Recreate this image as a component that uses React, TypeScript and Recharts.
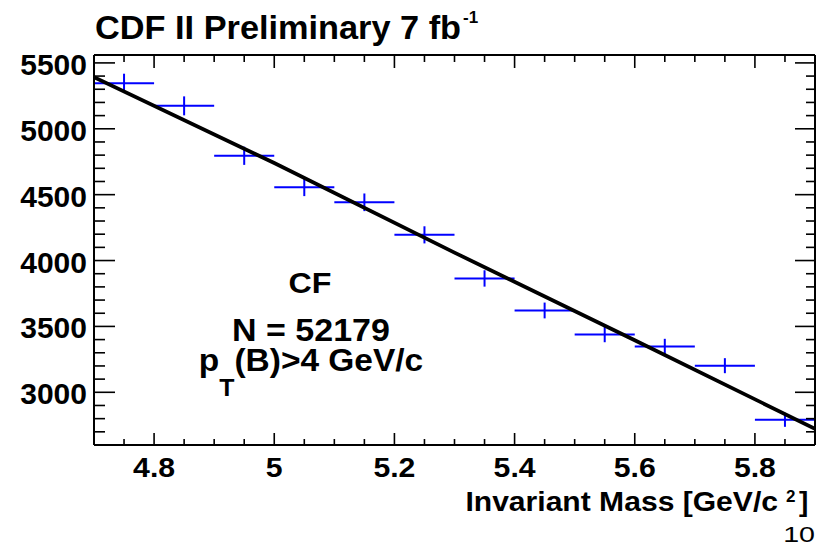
import React from 'react';
import { ComposedChart, XAxis, YAxis, Scatter, ErrorBar, Line } from 'recharts';

// Bin centres (GeV/c^2), counts, and errors
const binCenters = [4.75, 4.85, 4.95, 5.05, 5.15, 5.25, 5.35, 5.45, 5.55, 5.65, 5.75, 5.85];
const binCounts = [5345, 5174, 4795, 4557, 4442, 4195, 3864, 3621, 3439, 3348, 3202, 2791];
const binHalfWidths = [0.05, 0.05, 0.05, 0.05, 0.05, 0.05, 0.05, 0.05, 0.05, 0.05, 0.05, 0.05];
const countErrors = [73, 72, 69, 68, 67, 65, 62, 60, 59, 58, 57, 53];

// Fit curve (black line)
const fitX = [4.7, 5.0, 5.3, 5.6, 5.9];
const fitY = [5392, 4740, 4060, 3395, 2723];

// Axes
const xDomain = [4.7, 5.9];
const yDomain = [2600, 5560];
const xMajorTicks = [4.8, 5.0, 5.2, 5.4, 5.6, 5.8];
const xTickLabels = ['4.8', '5', '5.2', '5.4', '5.6', '5.8'];
const yMajorTicks = [3000, 3500, 4000, 4500, 5000, 5500];
const yTickLabels = ['3000', '3500', '4000', '4500', '5000', '5500'];

const xAllTicks: number[] = [];
for (let i = 0; i <= 24; i++) xAllTicks.push(Math.round((4.7 + i * 0.05) * 100) / 100);
const yAllTicks: number[] = [];
for (let v = 2700; v <= 5500; v += 100) yAllTicks.push(v);

const points = binCenters.map((x, i) => ({ x, y: binCounts[i], ex: binHalfWidths[i], ey: countErrors[i] }));
const fit = fitX.map((x, i) => ({ x, y: fitY[i] }));

const FONT = '"Liberation Sans", Arial, Helvetica, sans-serif';

const isXMajor = (v: number) => xMajorTicks.findIndex((m) => Math.abs(m - v) < 1e-6);
const isYMajor = (v: number) => yMajorTicks.findIndex((m) => Math.abs(m - v) < 1e-6);

const XTickBottom = (props: any) => {
  const { x, y, payload } = props;
  const idx = isXMajor(payload.value);
  const len = idx >= 0 ? 12 : 6;
  return (
    <g>
      <line x1={x} y1={y} x2={x} y2={y - len} stroke="#000" strokeWidth={1.6} />
      {idx >= 0 && (
        <g transform={`translate(${x},${y + 32}) scale(1.12,1)`}>
          <text x={0} y={0} textAnchor="middle" fontFamily={FONT} fontWeight="bold" fontSize={27} fill="#000">
            {xTickLabels[idx]}
          </text>
        </g>
      )}
    </g>
  );
};

const XTickTop = (props: any) => {
  const { x, y, payload } = props;
  const idx = isXMajor(payload.value);
  const len = idx >= 0 ? 13 : 7;
  return <line x1={x} y1={y} x2={x} y2={y + len} stroke="#000" strokeWidth={1.6} />;
};

const YTickLeft = (props: any) => {
  const { x, y, payload } = props;
  const idx = isYMajor(payload.value);
  const len = idx >= 0 ? 21 : 11;
  return (
    <g>
      <line x1={x} y1={y} x2={x + len} y2={y} stroke="#000" strokeWidth={1.6} />
      {idx >= 0 && (
        <text x={x - 7} y={y + 12} textAnchor="end" fontFamily={FONT} fontWeight="bold" fontSize={30} fill="#000">
          {yTickLabels[idx]}
        </text>
      )}
    </g>
  );
};

const YTickRight = (props: any) => {
  const { x, y, payload } = props;
  const idx = isYMajor(payload.value);
  const len = idx >= 0 ? 20 : 9;
  return <line x1={x} y1={y} x2={x - len} y2={y} stroke="#000" strokeWidth={1.6} />;
};

const NoShape = () => <g />;

export default function App() {
  return (
    <div style={{ position: 'absolute', left: 0, top: 0, width: 834, height: 548, background: '#fff' }}>
      <ComposedChart
        width={834}
        height={548}
        margin={{ top: 54, right: 18, bottom: 102, left: 93 }}
        style={{ position: 'absolute', left: 0, top: 0 }}
      >
        <XAxis
          xAxisId="b"
          type="number"
          dataKey="x"
          domain={xDomain}
          ticks={xAllTicks}
          interval={0}
          allowDataOverflow
          height={1}
          tickSize={0}
          tickMargin={0}
          tickLine={false}
          axisLine={{ stroke: '#000', strokeWidth: 2 }}
          tick={(p: any) => <XTickBottom {...p} />}
        />
        <XAxis
          xAxisId="t"
          orientation="top"
          type="number"
          dataKey="x"
          domain={xDomain}
          ticks={xAllTicks}
          interval={0}
          allowDataOverflow
          height={1}
          tickSize={0}
          tickMargin={0}
          tickLine={false}
          axisLine={{ stroke: '#000', strokeWidth: 2 }}
          tick={(p: any) => <XTickTop {...p} />}
        />
        <YAxis
          yAxisId="l"
          type="number"
          dataKey="y"
          domain={yDomain}
          ticks={yAllTicks}
          interval={0}
          allowDataOverflow
          width={1}
          tickSize={0}
          tickMargin={0}
          tickLine={false}
          axisLine={{ stroke: '#000', strokeWidth: 2 }}
          tick={(p: any) => <YTickLeft {...p} />}
        />
        <YAxis
          yAxisId="r"
          orientation="right"
          type="number"
          domain={yDomain}
          ticks={yAllTicks}
          interval={0}
          allowDataOverflow
          width={1}
          tickSize={0}
          tickMargin={0}
          tickLine={false}
          axisLine={{ stroke: '#000', strokeWidth: 2 }}
          tick={(p: any) => <YTickRight {...p} />}
        />
        <Scatter
          data={points}
          xAxisId="b"
          yAxisId="l"
          dataKey="y"
          shape={<NoShape />}
          isAnimationActive={false}
        >
          <ErrorBar dataKey="ex" direction="x" width={0} stroke="#0000ff" strokeWidth={2} isAnimationActive={false} />
          <ErrorBar dataKey="ey" direction="y" width={0} stroke="#0000ff" strokeWidth={2} isAnimationActive={false} />
        </Scatter>
        <Line
          data={fit}
          xAxisId="b"
          yAxisId="l"
          dataKey="y"
          type="linear"
          stroke="#000"
          strokeWidth={3.8}
          dot={false}
          activeDot={false}
          isAnimationActive={false}
        />
      </ComposedChart>
      <svg
        width={834}
        height={548}
        style={{ position: 'absolute', left: 0, top: 0, pointerEvents: 'none' }}
        fontFamily={FONT}
      >
        <g transform="translate(95,39) scale(1.04,1)">
          <text x={0} y={0} fontWeight="bold" fontSize={33} fill="#000">CDF II Preliminary 7 fb</text>
        </g>
        <text x={463} y={23} fontWeight="bold" fontSize={17} fill="#000">-1</text>

        <g transform="translate(310,293) scale(1.075,1)">
          <text x={0} y={0} textAnchor="middle" fontWeight="bold" fontSize={30} fill="#000">CF</text>
        </g>
        <g transform="translate(311,341) scale(1.08,1)">
          <text x={0} y={0} textAnchor="middle" fontWeight="bold" fontSize={31.5} fill="#000">N = 52179</text>
        </g>
        <g transform="translate(311,371) scale(1.08,1)">
          <text x={0} y={0} textAnchor="middle" fontWeight="bold" fontSize={31} fill="#000">
            p<tspan fontSize={23} dy={25}>T</tspan><tspan dy={-25}>(B)&gt;4 GeV/c</tspan>
          </text>
        </g>

        <g transform="translate(778,511) scale(1.075,1)">
          <text x={0} y={0} textAnchor="end" fontWeight="bold" fontSize={28} fill="#000">Invariant Mass [GeV/c</text>
        </g>
        <text x={786} y={502} fontWeight="bold" fontSize={17} fill="#000">2</text>
        <text x={799} y={511} fontWeight="bold" fontSize={28} fill="#000">]</text>

        <g transform="translate(815,542) scale(1.3,1)">
          <text x={0} y={0} textAnchor="end" fontSize={22} fill="#000">10</text>
        </g>
      </svg>
    </div>
  );
}
